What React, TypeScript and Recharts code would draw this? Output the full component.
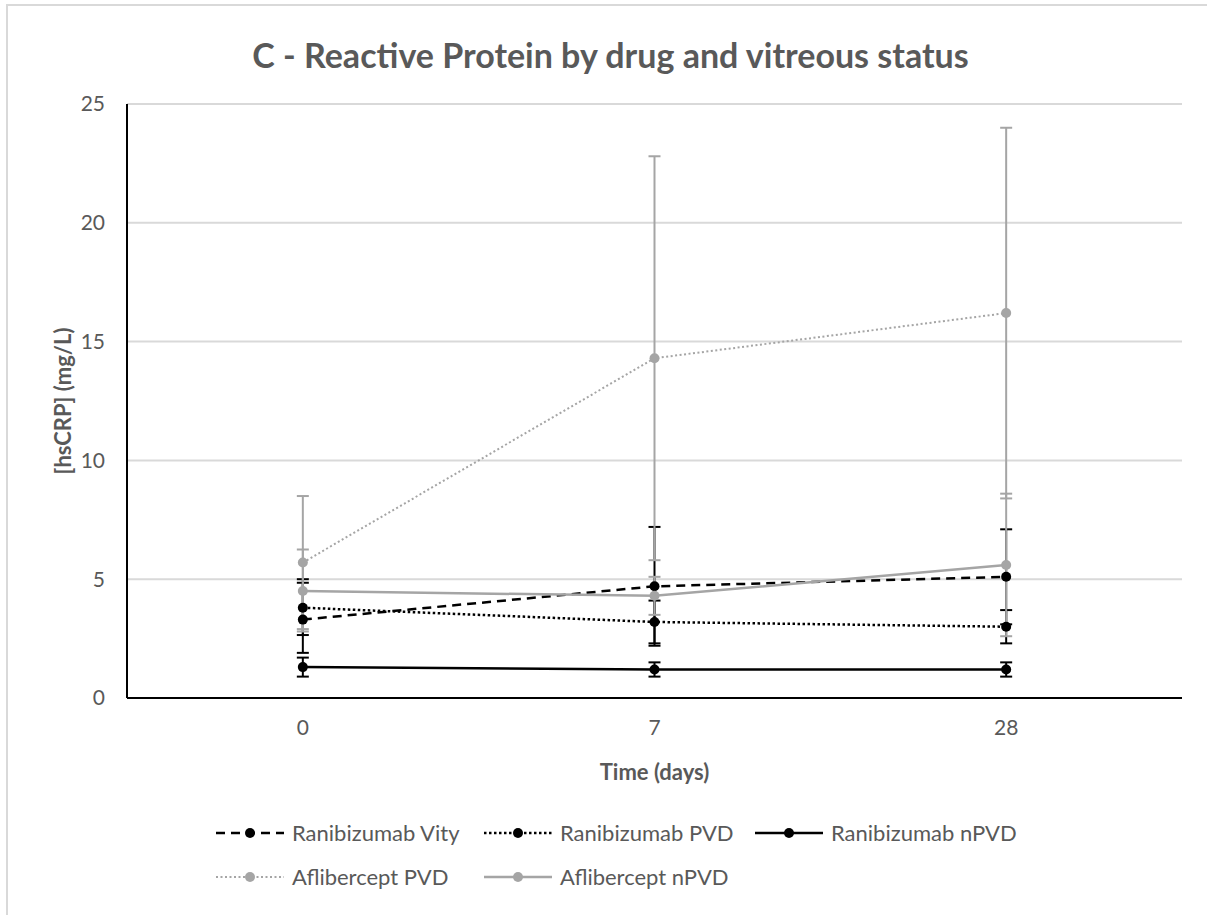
import { ComposedChart, Line, XAxis, YAxis, CartesianGrid, ErrorBar } from 'recharts';

// days after injection (category axis)
const days = ['0', '7', '28'];

// mean hsCRP values (mg/L) and error bar [below, above]
const ranibizumabVity = [3.3, 4.7, 5.1];
const ranibizumabVityErr = [[1.4, 1.55], [2.5, 2.5], [2.0, 2.0]];
const ranibizumabPvd = [3.8, 3.2, 3.0];
const ranibizumabPvdErr = [[1.15, 1.2], [0.9, 0.9], [0.7, 0.7]];
const ranibizumabNpvd = [1.3, 1.2, 1.2];
const ranibizumabNpvdErr = [[0.4, 0.4], [0.3, 0.3], [0.3, 0.3]];
const afliberceptPvd = [5.7, 14.3, 16.2];
const afliberceptPvdErr = [[2.8, 2.8], [8.5, 8.5], [7.8, 7.8]];
const afliberceptNpvd = [4.5, 4.3, 5.6];
const afliberceptNpvdErr = [[1.7, 1.75], [0.8, 0.8], [3.0, 3.0]];

const yTicks = [0, 5, 10, 15, 20, 25];

const FONT = 'Lato, "Open Sans", sans-serif';
const TEXT = '#595959';
const BLACK = '#000000';
const GREY = '#A5A5A5';

const series = [
    { key: 'ranVity', name: 'Ranibizumab Vity', values: ranibizumabVity, errors: ranibizumabVityErr, color: BLACK, dash: '9 6', width: 2.5 },
    { key: 'ranPvd', name: 'Ranibizumab PVD', values: ranibizumabPvd, errors: ranibizumabPvdErr, color: BLACK, dash: '2.5 2.5', width: 2.5 },
    { key: 'ranNpvd', name: 'Ranibizumab nPVD', values: ranibizumabNpvd, errors: ranibizumabNpvdErr, color: BLACK, dash: undefined, width: 2.5 },
    { key: 'aflPvd', name: 'Aflibercept PVD', values: afliberceptPvd, errors: afliberceptPvdErr, color: GREY, dash: '2 2.5', width: 2 },
    { key: 'aflNpvd', name: 'Aflibercept nPVD', values: afliberceptNpvd, errors: afliberceptNpvdErr, color: GREY, dash: undefined, width: 2.5 },
];

const chartData = days.map((day, i) => {
    const row: any = { day };
    series.forEach((s) => {
        row[s.key] = s.values[i];
        row[s.key + 'Err'] = s.errors[i];
    });
    return row;
});

// legend item positions (left of line sample, top of row)
const legendSlots = [
    { left: 216, top: 820 },
    { left: 484, top: 820 },
    { left: 755, top: 820 },
    { left: 216, top: 864 },
    { left: 484, top: 864 },
];

function LegendSample({ color, dash, width }: { color: string; dash?: string; width: number }) {
    return (
        <svg width={68} height={22} style={{ display: 'block' }}>
            <line x1={0} y1={11} x2={68} y2={11} stroke={color} strokeWidth={width} strokeDasharray={dash} />
            <circle cx={34} cy={11} r={5} fill={color} />
        </svg>
    );
}

export default function App() {
    return (
        <div style={{ position: 'fixed', left: 0, top: 0, width: 1207, height: 915, overflow: 'hidden', background: '#fff', fontFamily: FONT }}>
            <div style={{ position: 'absolute', left: 6, top: 4, width: 1400, height: 1100, border: '2px solid #D9D9D9' }} />
            <div style={{ position: 'absolute', left: 0, top: 0 }}>
                <ComposedChart width={1207} height={915} data={chartData} margin={{ top: 104, right: 25, left: 0, bottom: 177 }}>
                    <CartesianGrid stroke="#D9D9D9" strokeWidth={2} vertical={false} />
                    <XAxis
                        dataKey="day"
                        scale="band"
                        height={40}
                        axisLine={{ stroke: BLACK, strokeWidth: 2 }}
                        tickLine={false}
                        tickSize={0}
                        tickMargin={22}
                        tick={{ fill: TEXT, fontSize: 21, fontFamily: FONT }}
                        label={(props: any) => {
                            const vb = props.viewBox;
                            return (
                                <text x={vb.x + vb.width / 2} y={771} textAnchor="middle" dominantBaseline="central" fill={TEXT} fontSize={22} fontWeight="bold" fontFamily={FONT}>
                                    Time (days)
                                </text>
                            );
                        }}
                    />
                    <YAxis
                        width={127}
                        domain={[0, 25]}
                        ticks={yTicks}
                        interval={0}
                        axisLine={{ stroke: BLACK, strokeWidth: 2 }}
                        tickLine={false}
                        tickSize={0}
                        tickMargin={22}
                        tick={{ fill: TEXT, fontSize: 21, fontFamily: FONT }}
                        label={(props: any) => {
                            const vb = props.viewBox;
                            const cy = vb.y + vb.height / 2;
                            return (
                                <text x={62} y={cy} transform={`rotate(-90, 62, ${cy})`} textAnchor="middle" dominantBaseline="central" fill={TEXT} fontSize={22} fontWeight="bold" fontFamily={FONT}>
                                    [hsCRP] (mg/L)
                                </text>
                            );
                        }}
                    />

                    {/* error bars first so markers sit on top */}
                    {series.map((s) => (
                        <Line key={s.key + '-err'} dataKey={s.key} stroke="none" dot={false} activeDot={false} legendType="none" isAnimationActive={false}>
                            <ErrorBar dataKey={s.key + 'Err'} width={6} stroke={s.color} strokeWidth={2} />
                        </Line>
                    ))}

                    {series.map((s) => (
                        <Line
                            key={s.key}
                            type="linear"
                            dataKey={s.key}
                            name={s.name}
                            stroke={s.color}
                            strokeWidth={s.width}
                            strokeDasharray={s.dash}
                            dot={{ r: 5, fill: s.color, stroke: 'none' }}
                            activeDot={false}
                            isAnimationActive={false}
                        />
                    ))}
                </ComposedChart>
            </div>

            <div style={{ position: 'absolute', left: 0, top: 34, width: 1221, textAlign: 'center', color: TEXT, fontSize: 34, fontWeight: 'bold', lineHeight: '42px' }}>
                C - Reactive Protein by drug and vitreous status
            </div>

            {series.map((s, i) => (
                <div key={s.key} style={{ position: 'absolute', left: legendSlots[i].left, top: legendSlots[i].top, display: 'flex', alignItems: 'center', color: TEXT, fontSize: 22, lineHeight: '26px' }}>
                    <LegendSample color={s.color} dash={s.dash} width={s.width} />
                    <span style={{ marginLeft: 8, whiteSpace: 'nowrap' }}>{s.name}</span>
                </div>
            ))}
        </div>
    );
}
